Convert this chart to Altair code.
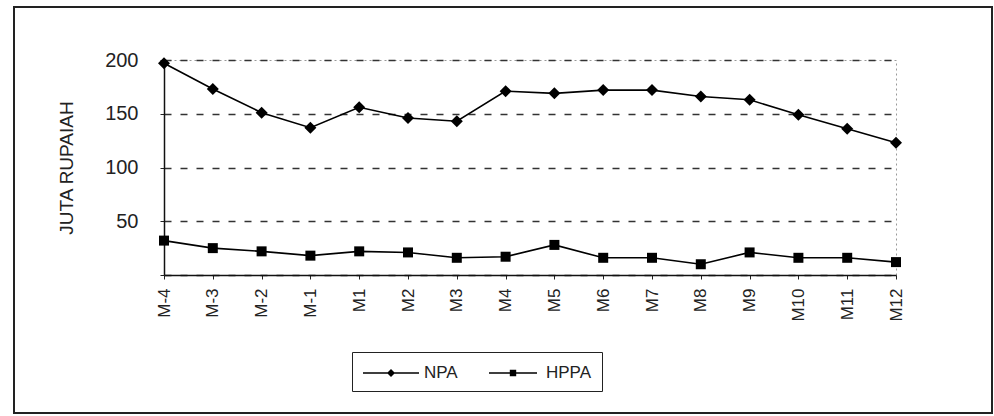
import altair as alt
import pandas as pd

# Monthly figures in million rupiah
months = ["M-4", "M-3", "M-2", "M-1", "M1", "M2", "M3", "M4",
          "M5", "M6", "M7", "M8", "M9", "M10", "M11", "M12"]
npa = [197, 173, 151, 137, 156, 146, 143, 171,
       169, 172, 172, 166, 163, 149, 136, 123]
hppa = [32, 25, 22, 18, 22, 21, 16, 17,
        28, 16, 16, 10, 21, 16, 16, 12]
series = ["NPA", "HPPA"]

df = pd.DataFrame(
    [{"bulan": m, "nilai": v, "seri": "NPA"} for m, v in zip(months, npa)]
    + [{"bulan": m, "nilai": v, "seri": "HPPA"} for m, v in zip(months, hppa)]
)

FONT = "Liberation Sans"

# plot markers (unit box)
diamond = "M0,-1L1,0L0,1L-1,0Z"
square = "M-1,-1H1V1H-1Z"
# legend keys: marker with a short line on each side
key_diamond = ("M-2.8,-0.065H-0.3V0.065H-2.8Z"
               "M0.3,-0.065H2.8V0.065H0.3Z"
               "M0,-0.4L0.4,0L0,0.4L-0.4,0Z")
key_square = ("M-2.4,-0.065H-0.3V0.065H-2.4Z"
              "M0.3,-0.065H2.4V0.065H0.3Z"
              "M-0.32,-0.32H0.32V0.32H-0.32Z")

x_enc = alt.X(
    "bulan:O",
    sort=months,
    scale=alt.Scale(type="point", padding=0),
    axis=alt.Axis(
        title=None, labelAngle=270, labelFontSize=17, labelFont=FONT,
        labelColor="#222", labelPadding=9, tickSize=4, tickColor="#222",
        domainColor="#111", domainWidth=1.5, grid=False,
    ),
)
y_enc = alt.Y(
    "nilai:Q",
    scale=alt.Scale(domain=[0, 200], nice=False),
    axis=alt.Axis(
        title="JUTA RUPAIAH", titleFont=FONT, titleFontSize=19,
        titleFontWeight="normal", titleColor="#222", titlePadding=28,
        values=[0, 50, 100, 150, 200],
        labelExpr="datum.value == 0 ? '' : datum.label",
        labelFontSize=20, labelFont=FONT, labelColor="#222", labelPadding=22,
        tickSize=4, tickColor="#222", domainColor="#111", domainWidth=1.5,
        grid=True, gridDash=[7, 9], gridColor="#333", gridWidth=1.4,
    ),
)

lines = alt.Chart(df).mark_line(color="black", strokeWidth=1.6).encode(
    x=x_enc, y=y_enc, detail="seri:N"
)

points = alt.Chart(df).mark_point(
    filled=True, color="black", opacity=1
).encode(
    x=alt.X("bulan:O", sort=months),
    y="nilai:Q",
    shape=alt.Shape(
        "seri:N",
        scale=alt.Scale(domain=series, range=[diamond, square]),
        legend=None,
    ),
    size=alt.Size(
        "seri:N",
        scale=alt.Scale(domain=series, range=[144, 100]),
        legend=None,
    ),
)

# legend only (no rows drawn)
legend_layer = alt.Chart(df).transform_filter(
    alt.datum.nilai < 0
).mark_point(filled=True, color="black", opacity=1).encode(
    x=alt.X("bulan:O", sort=months),
    y="nilai:Q",
    shape=alt.Shape(
        "seri:N",
        scale=alt.Scale(domain=series, range=[key_diamond, key_square]),
        legend=alt.Legend(
            orient="none", legendX=188, legendY=292, direction="horizontal",
            title=None, strokeColor="#222", padding=10, symbolSize=400,
            symbolOffset=18, labelOffset=22, columnPadding=26,
            labelFontSize=17, labelFont=FONT, labelColor="#222",
        ),
    ),
)

frame = alt.Chart(pd.DataFrame({"k": [0]})).mark_rect(
    fillOpacity=0, stroke="#222", strokeWidth=2
).encode(
    x=alt.value(-150), x2=alt.value(828), y=alt.value(-53), y2=alt.value(353)
)

chart = (
    alt.layer(frame, lines, points, legend_layer)
    .resolve_scale(shape="independent", size="independent")
    .properties(
        width=732, height=215,
        autosize=alt.AutoSizeParams(type="none"),
        padding={"left": 164, "top": 60, "right": 98, "bottom": 141},
        background="white",
    )
    .configure_view(stroke="#999", strokeDash=[2, 3], strokeWidth=1)
)

chart.save("out.html", embed_options={"renderer": "svg", "actions": False})
